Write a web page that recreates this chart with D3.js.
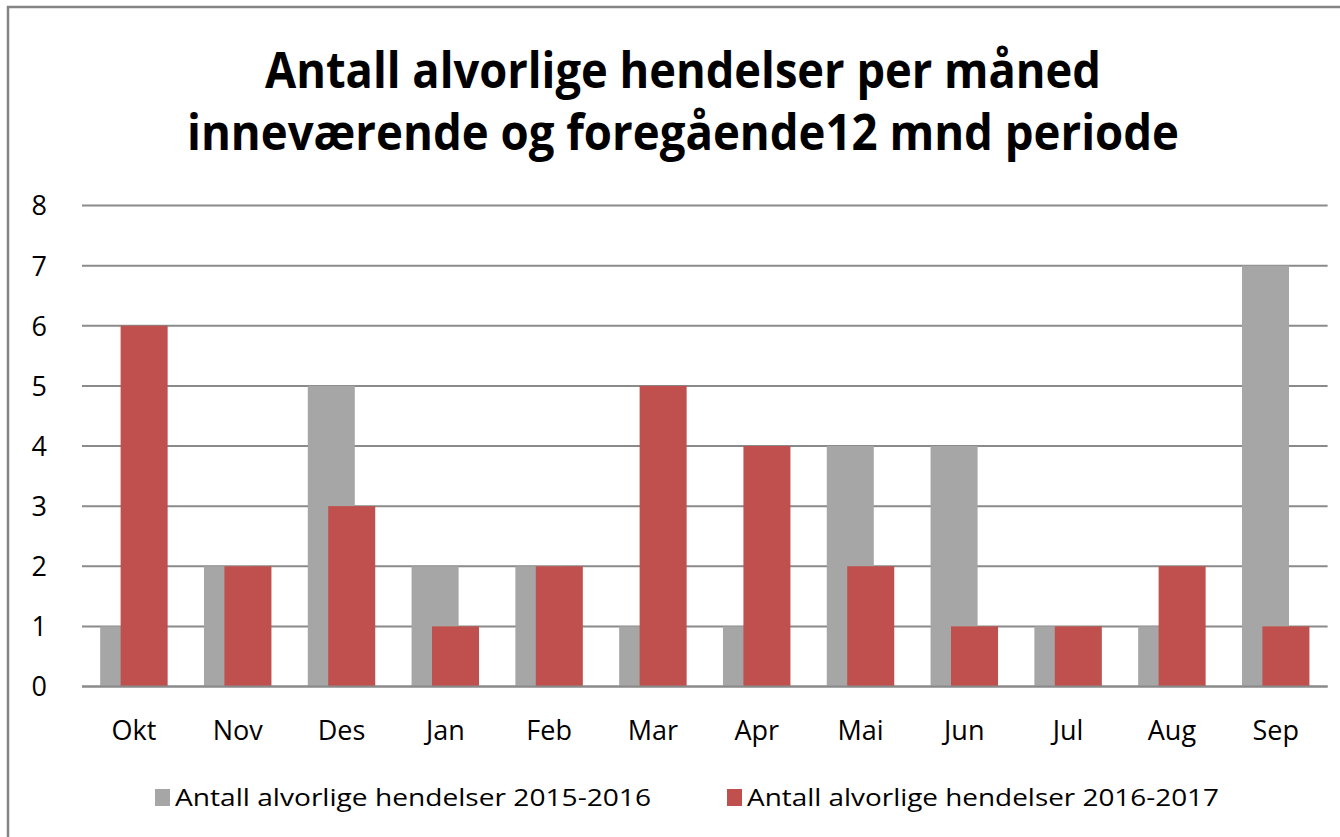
<!DOCTYPE html>
<html>
<head>
<meta charset="utf-8">
<script src="https://cdn.jsdelivr.net/npm/d3@7/dist/d3.min.js"></script>
<style>
  html, body { margin: 0; padding: 0; background: #fff; }
  svg { display: block; }
  text { font-family: "Open Sans", "Noto Sans", sans-serif; fill: #000; }
</style>
</head>
<body>
<svg id="chart" width="1340" height="837"></svg>
<script>
const titleLines = ["Antall alvorlige hendelser per måned", "inneværende og foregående12 mnd periode"];
const months = ["Okt", "Nov", "Des", "Jan", "Feb", "Mar", "Apr", "Mai", "Jun", "Jul", "Aug", "Sep"];
const seriesNames = ["Antall alvorlige hendelser 2015-2016", "Antall alvorlige hendelser 2016-2017"];
const values2015_2016 = [1, 2, 5, 2, 2, 1, 1, 4, 4, 1, 1, 7];
const values2016_2017 = [6, 2, 3, 1, 2, 5, 4, 2, 1, 1, 2, 1];
const yTicks = [0, 1, 2, 3, 4, 5, 6, 7, 8];
const colors = ["#A6A6A6", "#C0504D"];

(function () {
const svg = d3.select("#chart");

// frame
svg.append("path")
  .attr("d", "M8,1000 L8,7 L1400,7")
  .attr("fill", "none").attr("stroke", "#848484").attr("stroke-width", 2.5);

// title
const titleW = [836, 992];
titleLines.forEach((t, i) => {
  svg.append("text")
    .attr("x", 683).attr("y", 88 + i * 62)
    .attr("text-anchor", "middle")
    .attr("font-size", 50).attr("font-weight", 700)
    .attr("textLength", titleW[i]).attr("lengthAdjust", "spacingAndGlyphs")
    .text(t);
});

const plotL = 82, plotR = 1327.6, plotT = 205.5, plotB = 686.5;
const x = d3.scaleBand().domain(months).range([plotL, plotR]).paddingInner(0).paddingOuter(0);
const y = d3.scaleLinear().domain([0, 8]).range([plotB, plotT]);

// gridlines
svg.append("g").selectAll("line").data(yTicks).join("line")
  .attr("x1", plotL).attr("x2", plotR)
  .attr("y1", d => y(d)).attr("y2", d => y(d))
  .attr("stroke", "#8A8A8A").attr("stroke-width", 2);

// y axis labels
const yAxis = d3.axisLeft(y).tickValues(yTicks).tickSize(0).tickPadding(0).tickFormat(d3.format("d"));
const yg = svg.append("g").attr("transform", "translate(47,0)").call(yAxis);
yg.select(".domain").remove();
yg.selectAll("text").attr("font-size", 27).attr("font-family", "Open Sans").attr("fill", "#000").attr("dy", "0.35em");

// bars
const bw = x.bandwidth();
const barW = bw * 0.453;
const offset = bw * 0.197;
const pad = (bw - (barW + offset)) / 2;
const series = [values2015_2016, values2016_2017];
series.forEach((vals, s) => {
  svg.append("g").selectAll("rect").data(months).join("rect")
    .attr("x", (m) => x(m) + pad + s * offset)
    .attr("width", barW)
    .attr("y", (m, i) => y(vals[i]))
    .attr("height", (m, i) => y(0) - y(vals[i]))
    .attr("fill", colors[s]);
});

// baseline on top
svg.append("line").attr("x1", plotL).attr("x2", plotR)
  .attr("y1", y(0)).attr("y2", y(0)).attr("stroke", "#8A8A8A").attr("stroke-width", 2);

// x axis labels
const xAxis = d3.axisBottom(x).tickSize(0).tickPadding(0);
const xg = svg.append("g").attr("transform", "translate(0,740)").call(xAxis);
xg.select(".domain").remove();
xg.selectAll("text").attr("font-size", 27).attr("font-family", "Open Sans").attr("fill", "#000").attr("dy", 0);

// legend
const legendX = [155, 727];
const legendW = [476, 472];
seriesNames.forEach((n, i) => {
  svg.append("rect").attr("x", legendX[i]).attr("y", 789).attr("width", 15).attr("height", 17).attr("fill", colors[i]);
  svg.append("text").attr("x", legendX[i] + 20).attr("y", 806)
    .attr("font-size", 24)
    .attr("textLength", legendW[i]).attr("lengthAdjust", "spacingAndGlyphs")
    .text(n);
});
})();
</script>
</body>
</html>
